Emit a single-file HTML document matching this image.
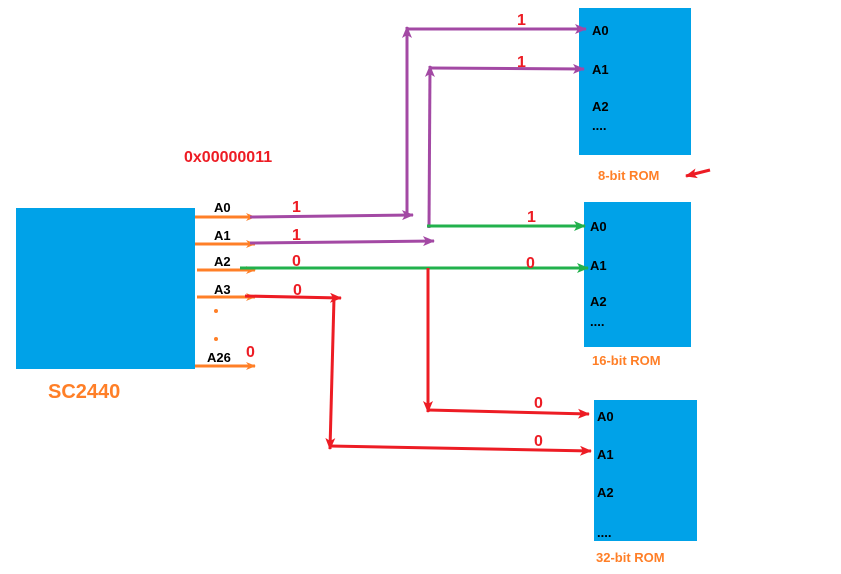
<!DOCTYPE html>
<html><head><style>body{margin:0;background:#fff}svg{display:block}text{font-family:"Liberation Sans",sans-serif;font-weight:bold}</style></head><body>
<svg width="841" height="574" viewBox="0 0 841 574">
<defs>
<marker id="o" markerWidth="10" markerHeight="8" refX="9" refY="4" orient="auto" markerUnits="userSpaceOnUse"><path d="M0,0L10,4L0,8L3,4z" fill="#ff7f27"/></marker>
<marker id="p" markerWidth="12" markerHeight="10" refX="11" refY="5" orient="auto" markerUnits="userSpaceOnUse"><path d="M0,0L12,5L0,10L3,5z" fill="#a349a4"/></marker>
<marker id="g" markerWidth="12" markerHeight="10" refX="11" refY="5" orient="auto" markerUnits="userSpaceOnUse"><path d="M0,0L12,5L0,10L3,5z" fill="#22b14c"/></marker>
<marker id="r" markerWidth="12" markerHeight="10" refX="11" refY="5" orient="auto" markerUnits="userSpaceOnUse"><path d="M0,0L12,5L0,10L3,5z" fill="#ed1c24"/></marker>
</defs>
<rect x="16" y="208" width="179" height="161" fill="#00a2e8"/>
<rect x="579" y="8" width="112" height="147" fill="#00a2e8"/>
<rect x="584" y="202" width="107" height="145" fill="#00a2e8"/>
<rect x="594" y="400" width="103" height="141" fill="#00a2e8"/>
<g stroke="#ff7f27" stroke-width="3" marker-end="url(#o)">
<line x1="195" y1="217" x2="255" y2="217"/><line x1="195" y1="244" x2="255" y2="244"/><line x1="197" y1="270" x2="255" y2="270"/><line x1="197" y1="297" x2="255" y2="297"/><line x1="195" y1="366" x2="255" y2="366"/>
</g>
<circle cx="216" cy="311" r="2" fill="#ff7f27"/><circle cx="216" cy="339" r="2" fill="#ff7f27"/>
<g stroke="#a349a4" stroke-width="3" fill="none">
<line x1="250" y1="217" x2="413" y2="215" marker-end="url(#p)"/>
<line x1="407" y1="215" x2="407" y2="27" marker-end="url(#p)"/>
<line x1="407" y1="29" x2="586" y2="29" marker-end="url(#p)"/>
<line x1="250" y1="243" x2="434" y2="241" marker-end="url(#p)"/>
<line x1="429" y1="228" x2="430" y2="66" marker-end="url(#p)"/>
<line x1="430" y1="68" x2="584" y2="69" marker-end="url(#p)"/>
</g>
<g stroke="#22b14c" stroke-width="3">
<line x1="427" y1="226" x2="585" y2="226" marker-end="url(#g)"/>
<line x1="240" y1="268" x2="588" y2="268" marker-end="url(#g)"/>
</g>
<g stroke="#ed1c24" stroke-width="3">
<line x1="428" y1="268" x2="428" y2="412" marker-end="url(#r)"/>
<line x1="428" y1="410" x2="589" y2="414" marker-end="url(#r)"/>
<line x1="245" y1="296" x2="341" y2="298" marker-end="url(#r)"/>
<line x1="334" y1="298" x2="330" y2="449" marker-end="url(#r)"/>
<line x1="330" y1="446" x2="591" y2="451" marker-end="url(#r)"/>
<line x1="710" y1="170" x2="686" y2="176" marker-end="url(#r)"/>
</g>
<g font-size="13" fill="#000">
<text x="214" y="212">A0</text><text x="214" y="240">A1</text><text x="214" y="266">A2</text><text x="214" y="294">A3</text><text x="207" y="362">A26</text>
<text x="592" y="35">A0</text><text x="592" y="74">A1</text><text x="592" y="111">A2</text><text x="592" y="130">....</text>
<text x="590" y="231">A0</text><text x="590" y="270">A1</text><text x="590" y="306">A2</text><text x="590" y="326">....</text>
<text x="597" y="421">A0</text><text x="597" y="459">A1</text><text x="597" y="497">A2</text><text x="597" y="537">....</text>
</g>
<g font-size="16" fill="#ed1c24">
<text x="292" y="212">1</text><text x="292" y="240">1</text><text x="292" y="266">0</text><text x="293" y="295">0</text><text x="246" y="357">0</text>
<text x="517" y="25">1</text><text x="517" y="67">1</text><text x="527" y="222">1</text><text x="526" y="268">0</text><text x="534" y="408">0</text><text x="534" y="446">0</text>
<text x="184" y="162">0x00000011</text>
</g>
<g fill="#ff7f27">
<text x="48" y="398" font-size="20">SC2440</text>
<text x="598" y="180" font-size="13">8-bit ROM</text>
<text x="592" y="365" font-size="13">16-bit ROM</text>
<text x="596" y="562" font-size="13">32-bit ROM</text>
</g>
</svg>
</body></html>
